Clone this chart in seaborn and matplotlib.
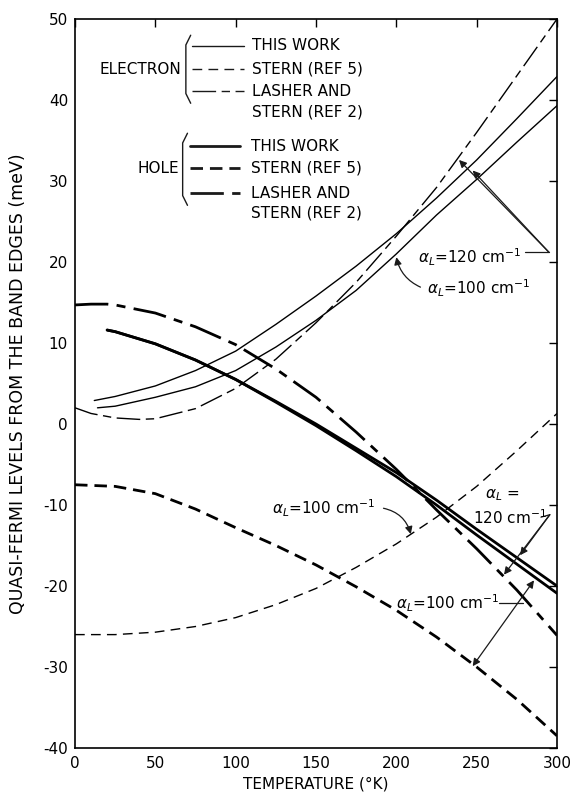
import matplotlib
matplotlib.use("Agg")
import matplotlib.pyplot as plt
import seaborn as sns
import pandas as pd

sns.set_theme(style="white")
plt.rcParams['font.family'] = ['DejaVu Sans']
plt.rcParams['axes.unicode_minus'] = False
plt.rcParams['lines.scale_dashes'] = False
plt.rcParams['mathtext.fontset'] = 'dejavusans'
plt.rcParams['text.color'] = 'black'
plt.rcParams['axes.labelcolor'] = 'black'
plt.rcParams['xtick.color'] = 'black'
plt.rcParams['ytick.color'] = 'black'

# ---------------- data ----------------
T25 = [0, 25, 50, 75, 100, 125, 150, 175, 200, 225, 250, 275, 300]

el_this120_T = [12, 25, 50, 75, 100, 125, 150, 175, 200, 225, 250, 275, 300]
el_this120_E = [2.9, 3.4, 4.7, 6.6, 9.0, 12.3, 15.8, 19.5, 23.5, 27.9, 32.6, 37.7, 42.9]

el_this100_T = [14, 25, 50, 75, 100, 125, 150, 175, 200, 225, 250, 275, 300]
el_this100_E = [2.0, 2.2, 3.3, 4.6, 6.6, 9.5, 12.8, 16.5, 21.0, 25.8, 30.2, 34.8, 39.3]

el_stern_T = T25
el_stern_E = [-26.0, -26.0, -25.7, -25.0, -23.9, -22.3, -20.3, -17.7, -14.8, -11.5, -7.7, -3.3, 1.3]

el_lasher_T = [0, 10, 25, 40, 50, 75, 100, 125, 150, 175, 200, 225, 250, 275, 300]
el_lasher_E = [2.0, 1.3, 0.75, 0.57, 0.65, 1.9, 4.4, 8.0, 12.5, 17.5, 23.2, 29.2, 36.0, 43.0, 50.0]

ho_this120_T = [20, 25, 50, 75, 100, 125, 150, 175, 200, 225, 250, 275, 300]
ho_this120_E = [11.6, 11.4, 9.9, 7.9, 5.5, 2.8, 0.0, -3.0, -6.0, -9.4, -13.0, -16.5, -20.0]

ho_this100_T = [20, 25, 50, 75, 100, 125, 150, 175, 200, 225, 250, 275, 300]
ho_this100_E = [11.6, 11.4, 9.9, 7.9, 5.5, 2.7, -0.2, -3.3, -6.5, -10.0, -13.7, -17.3, -20.9]

ho_stern_T = T25
ho_stern_E = [-7.5, -7.7, -8.6, -10.5, -12.8, -15.0, -17.4, -20.1, -23.0, -26.3, -30.0, -34.0, -38.5]

ho_lasher_T = [0, 10, 20, 25, 50, 75, 100, 125, 150, 175, 200, 225, 250, 275, 300]
ho_lasher_E = [14.7, 14.8, 14.8, 14.7, 13.7, 12.0, 9.8, 6.8, 3.3, -1.0, -5.6, -10.6, -15.4, -20.5, -26.1]

x_ticks = [0, 50, 100, 150, 200, 250, 300]
y_ticks = [-40, -30, -20, -10, 0, 10, 20, 30, 40, 50]

# ---------------- styles ----------------
THIN = 1.0
THICK = 2.0
st_solid = '-'
st_el_stern = (0, (7, 4.5))
st_el_lasher = (0, (17, 4, 6, 4))
st_ho_stern = (0, (9, 5))
st_ho_lasher = (0, (24, 6, 6.5, 6))

fig = plt.figure(figsize=(5.73, 7.96), dpi=100)
ax = fig.add_axes([0.1309, 0.0603, 0.8412, 0.9158])

curves = [
    (el_this120_T, el_this120_E, THIN, st_solid),
    (el_this100_T, el_this100_E, THIN, st_solid),
    (el_stern_T, el_stern_E, THIN, st_el_stern),
    (el_lasher_T, el_lasher_E, THIN, st_el_lasher),
    (ho_this120_T, ho_this120_E, THICK, st_solid),
    (ho_this100_T, ho_this100_E, THICK, st_solid),
    (ho_stern_T, ho_stern_E, THICK, st_ho_stern),
    (ho_lasher_T, ho_lasher_E, THICK, st_ho_lasher),
]
for T, E, lw, ls in curves:
    df = pd.DataFrame({"T": T, "E": E})
    sns.lineplot(data=df, x="T", y="E", ax=ax, color="black", linewidth=lw,
                 linestyle=ls, errorbar=None, estimator=None)

ax.set_xlim(0, 300)
ax.set_ylim(-40, 50)
ax.set_xticks(x_ticks)
ax.set_yticks(y_ticks)
ax.tick_params(direction='in', length=6, width=1.0, top=True, right=True,
               labelsize=11, colors='black')
ax.tick_params(axis='x', pad=6)
ax.tick_params(axis='y', pad=5)
for s in ax.spines.values():
    s.set_visible(True)
    s.set_color('black')
    s.set_linewidth(1.2)
ax.set_xlabel("TEMPERATURE (°K)", fontsize=11, labelpad=4)
ax.set_ylabel("QUASI-FERMI LEVELS FROM THE BAND EDGES (meV)", fontsize=12.5, labelpad=12)

# ---------------- legend (hand drawn, as in the reference) ----------------
FS = 11

def bracket(x, y0, y1):
    h = 1.2
    ax.plot([x + 3, x, x, x + 3], [y0 + 0.4, y0 - h + 0.4, y1 + h - 0.4, y1 - 0.4],
            color='k', lw=1.0)

bracket(69.0, 47.6, 40.0)
ax.text(66.0, 43.8, "ELECTRON", ha='right', va='center', fontsize=FS)
for yy, ls in [(46.7, st_solid), (43.8, st_el_stern), (41.1, st_el_lasher)]:
    ax.plot([73, 105], [yy, yy], color='k', lw=THIN, linestyle=ls)
ax.text(110, 46.7, "THIS WORK", va='center', fontsize=FS)
ax.text(110, 43.8, "STERN (REF 5)", va='center', fontsize=FS)
ax.text(110, 41.1, "LASHER AND", va='center', fontsize=FS)
ax.text(110, 38.5, "STERN (REF 2)", va='center', fontsize=FS)

bracket(67.0, 35.5, 27.4)
ax.text(64.5, 31.6, "HOLE", ha='right', va='center', fontsize=FS)
for yy, ls in [(34.3, st_solid), (31.6, st_ho_stern), (28.5, st_ho_lasher)]:
    ax.plot([71.5, 103], [yy, yy], color='k', lw=THICK, linestyle=ls)
ax.text(109.5, 34.3, "THIS WORK", va='center', fontsize=FS)
ax.text(109.5, 31.6, "STERN (REF 5)", va='center', fontsize=FS)
ax.text(109.5, 28.5, "LASHER AND", va='center', fontsize=FS)
ax.text(109.5, 26.1, "STERN (REF 2)", va='center', fontsize=FS)

# ---------------- annotations ----------------
ap = dict(arrowstyle='-|>', color='k', lw=0.9, mutation_scale=11, shrinkA=0, shrinkB=0)
ap2 = dict(arrowstyle='<|-|>', color='k', lw=0.9, mutation_scale=11, shrinkA=0, shrinkB=0)

# electron alpha=120
ax.text(245.5, 20.6, r"$\alpha_L$=120 cm$^{-1}$", ha='center', va='center', fontsize=FS)
ax.plot([280, 295], [21.2, 21.2], color='k', lw=0.9)
ax.annotate('', xy=(239, 32.6), xytext=(295, 21.2), arrowprops=ap)
ax.annotate('', xy=(247.5, 31.3), xytext=(295, 21.2), arrowprops=ap)

# electron alpha=100 (this work)
ax.text(251, 16.8, r"$\alpha_L$=100 cm$^{-1}$", ha='center', va='center', fontsize=FS)
ax.annotate('', xy=(200, 20.6), xytext=(215, 16.9),
            arrowprops=dict(ap, connectionstyle='arc3,rad=-0.25'))

# electron stern alpha=100
ax.text(154.5, -10.4, r"$\alpha_L$=100 cm$^{-1}$", ha='center', va='center', fontsize=FS)
ax.annotate('', xy=(209, -13.6), xytext=(192, -10.4),
            arrowprops=dict(ap, connectionstyle='arc3,rad=-0.3'))

# hole alpha=120
ax.text(266, -8.8, r"$\alpha_L$ =", ha='center', va='center', fontsize=FS)
ax.text(271, -11.5, r"120 cm$^{-1}$", ha='center', va='center', fontsize=FS)
ax.plot([290, 295.5], [-11.5, -11.2], color='k', lw=0.9)
ax.annotate('', xy=(277, -16.2), xytext=(295.5, -11.2), arrowprops=ap)
ax.annotate('', xy=(267, -18.6), xytext=(295.5, -11.2), arrowprops=ap)

# hole alpha=100
ax.text(232, -22.1, r"$\alpha_L$=100 cm$^{-1}$", ha='center', va='center', fontsize=FS)
ax.plot([264, 279], [-22.1, -22.1], color='k', lw=0.9)
ax.annotate('', xy=(285.7, -19.3), xytext=(247.5, -29.9), arrowprops=ap2)

fig.savefig("out.png", dpi=100)
